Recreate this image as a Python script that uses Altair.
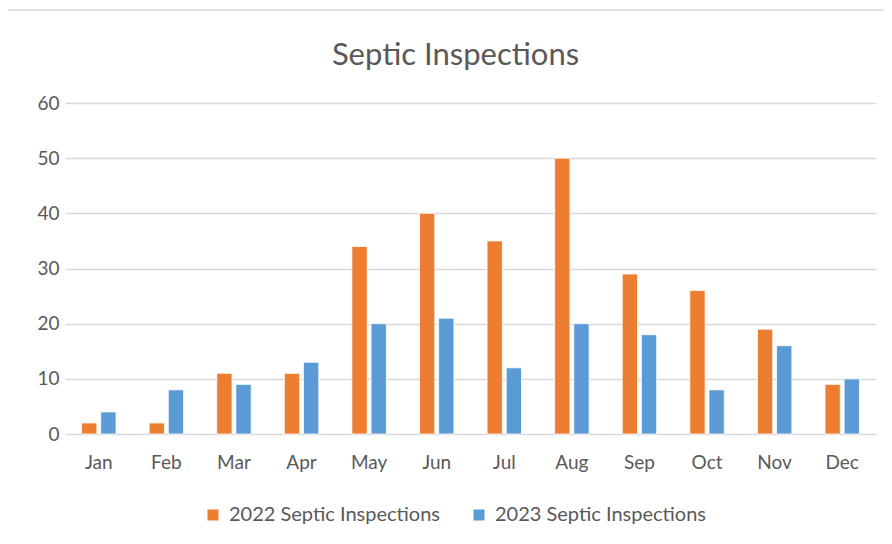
import altair as alt
import pandas as pd

months = ["Jan", "Feb", "Mar", "Apr", "May", "Jun", "Jul", "Aug", "Sep", "Oct", "Nov", "Dec"]
series_names = ["2022 Septic Inspections", "2023 Septic Inspections"]
values_2022 = [2, 2, 11, 11, 34, 40, 35, 50, 29, 26, 19, 9]
values_2023 = [4, 8, 9, 13, 20, 21, 12, 20, 18, 8, 16, 10]
colors = ["#ED7D31", "#5B9BD5"]
y_ticks = [0, 10, 20, 30, 40, 50, 60]

rows = []
for m, a, b in zip(months, values_2022, values_2023):
    rows.append({"Month": m, "Series": series_names[0], "Value": a})
    rows.append({"Month": m, "Series": series_names[1], "Value": b})
df = pd.DataFrame(rows)

FONT = "Lato"
GRAY = "#595959"

bars = alt.Chart(df).mark_bar(stroke="white", strokeWidth=0.8).encode(
    x=alt.X("Month:N", sort=months, title=None,
            scale=alt.Scale(paddingInner=0.49, paddingOuter=0.245),
            axis=alt.Axis(labelAngle=0, labelFont=FONT, labelFontSize=19, labelColor=GRAY,
                          labelPadding=19, domain=False, ticks=False, grid=False)),
    xOffset=alt.XOffset("Series:N", sort=series_names,
                        scale=alt.Scale(paddingInner=0.2, paddingOuter=0)),
    y=alt.Y("Value:Q", title=None,
            scale=alt.Scale(domain=[0, 60], nice=False),
            axis=alt.Axis(values=y_ticks, labelFont=FONT, labelFontSize=19, labelColor=GRAY,
                          labelPadding=6, domain=False, ticks=False,
                          grid=True, gridColor="#D9D9D9", gridWidth=1.5)),
    color=alt.Color("Series:N", sort=series_names,
                    scale=alt.Scale(domain=series_names, range=colors),
                    legend=alt.Legend(title=None, orient="none", direction="horizontal",
                                      legendX=138, legendY=402,
                                      symbolType="square", symbolSize=121,
                                      symbolStrokeWidth=0, labelLimit=0,
                                      labelFont=FONT, labelFontSize=20, labelColor=GRAY,
                                      labelOffset=6, columnPadding=28)),
)

frame = alt.Chart(pd.DataFrame({"a": [0]})).mark_rule(color="#D9D9D9", strokeWidth=1.5).encode(
    x=alt.value(-57), x2=alt.value(830), y=alt.value(-93)
)

chart = alt.layer(bars, frame).properties(
    width=811,
    height=331,
    background="white",
    title=alt.TitleParams("Septic Inspections", font=FONT, fontSize=31, fontWeight="normal",
                          color=GRAY, anchor="middle", dx=-15, dy=87, offset=0,
                          baseline="alphabetic", frame="group"),
    autosize=alt.AutoSizeParams(type="none"),
    padding={"left": 57, "top": 95, "right": 8, "bottom": 100},
).configure_view(strokeWidth=0, stroke="transparent")

chart.save("out.html", embed_options={"renderer": "svg", "actions": False})
